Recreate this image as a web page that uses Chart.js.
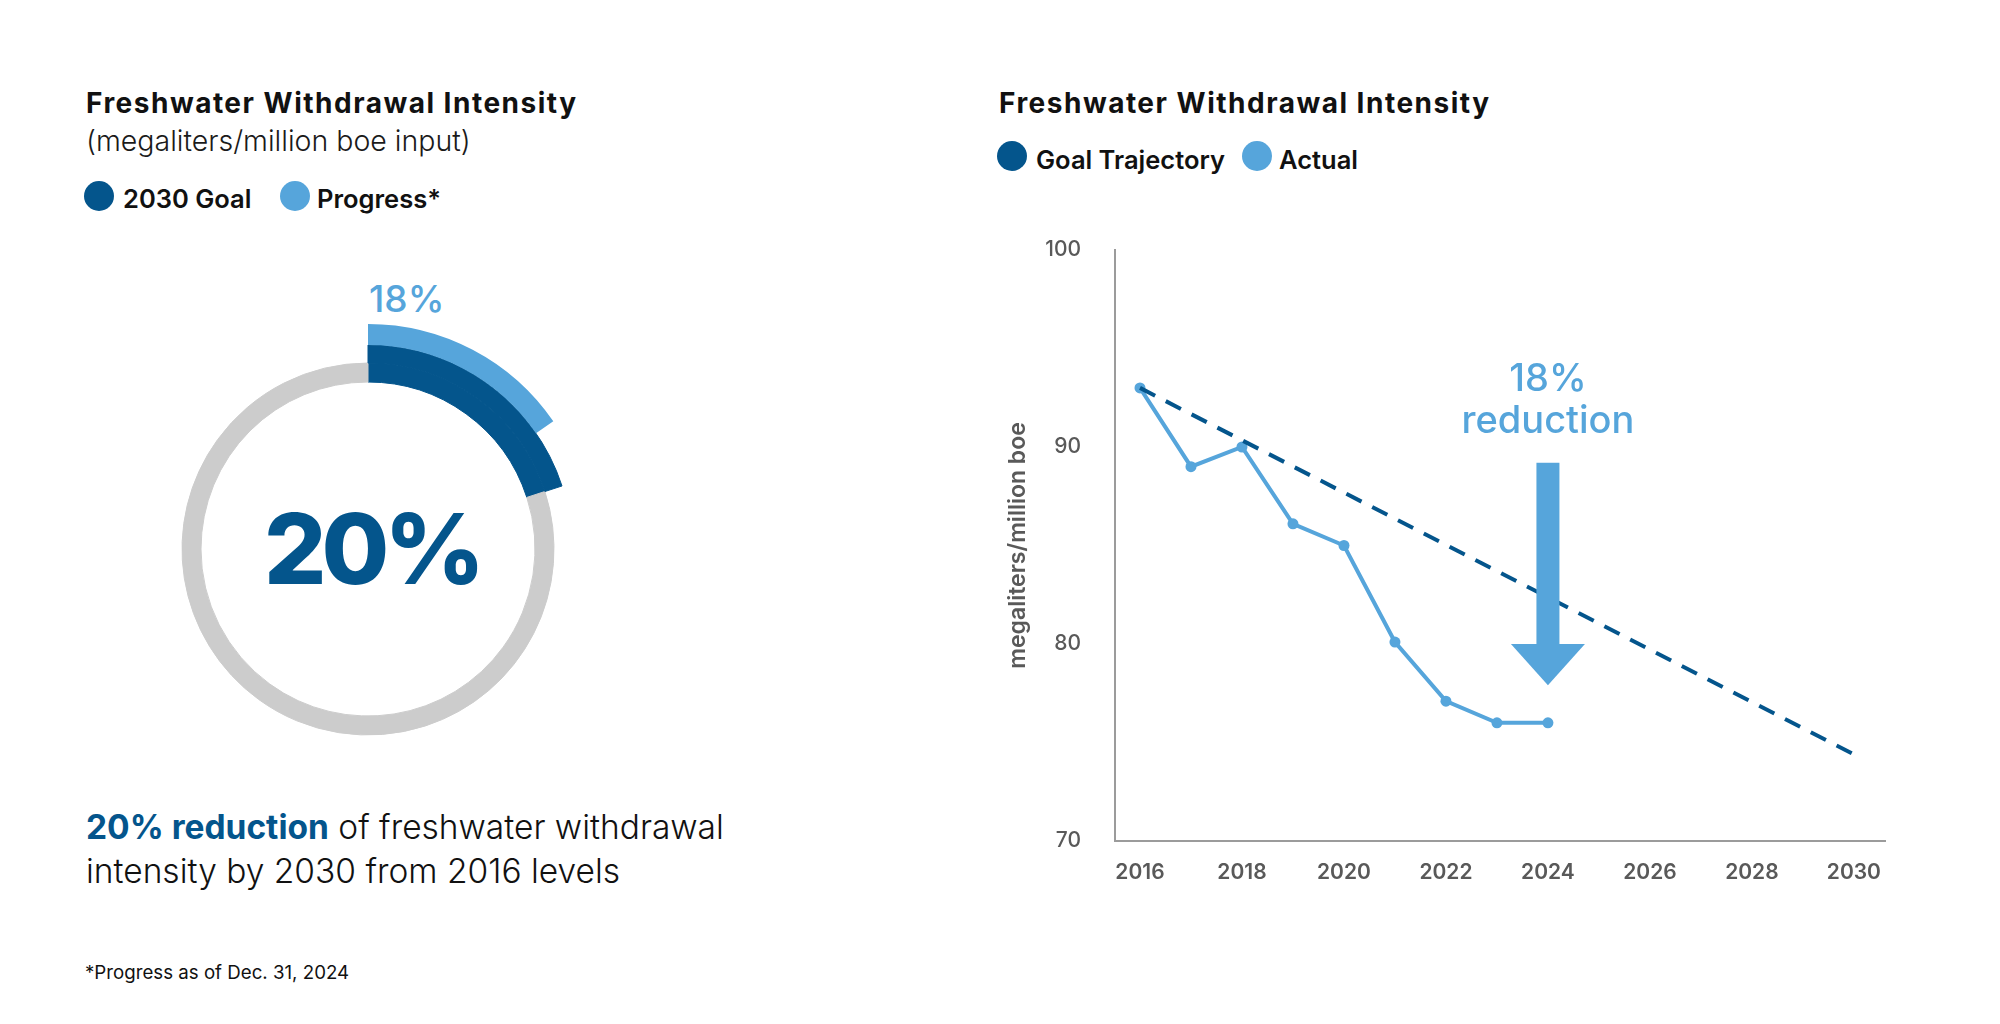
<!DOCTYPE html>
<html>
<head>
<meta charset="utf-8">
<title>Freshwater Withdrawal Intensity</title>
<script src="https://cdn.jsdelivr.net/npm/chart.js"></script>
<style>
  html, body { margin: 0; padding: 0; background: #fff; }
  body { width: 2000px; height: 1024px; position: relative; overflow: hidden;
         font-family: Inter, "Noto Sans", sans-serif; color: #111; }
  .abs { position: absolute; white-space: nowrap; line-height: 1; }
  .title { font-size: 28px; font-weight: 700; letter-spacing: 1.5px; }
  .sub { font-size: 28.5px; font-weight: 300; color: #1a1a1a; }
  .leg { font-size: 25.5px; font-weight: 600; }
  .dot { position: absolute; width: 30px; height: 30px; border-radius: 50%; }
  .dark { background: #04558c; }
  .light { background: #56a5db; }
  .pct { font-size: 37px; font-weight: 500; color: #56a5db; }
  .summary { font-size: 33.5px; font-weight: 300; line-height: 44px; color: #111; }
  .summary b { font-weight: 700; color: #04558c; }
  .note { font-size: 18.7px; font-weight: 400; color: #111; }
  #donutBox { position: absolute; left: 143px; top: 324px; width: 450px; height: 450px; }
  #lineBox { position: absolute; left: 990px; top: 230px; width: 910px; height: 680px; }
</style>
</head>
<body>

<!-- left panel -->
<div class="abs title" style="left:86px; top:88.5px;">Freshwater Withdrawal Intensity</div>
<div class="abs sub" style="left:86px; top:127px;">(megaliters/million boe input)</div>
<div class="dot dark" style="left:84px; top:181px;"></div>
<div class="abs leg" style="left:123px; top:186px;">2030 Goal</div>
<div class="dot light" style="left:280px; top:181px;"></div>
<div class="abs leg" style="left:317px; top:186px;">Progress*</div>
<div class="abs pct" style="left:369px; top:280px;">18%</div>
<div id="donutBox"><canvas id="donut"></canvas></div>
<div class="abs summary" style="left:86px; top:805px;"><b>20% reduction</b> of freshwater withdrawal<br>intensity by 2030 from 2016 levels</div>
<div class="abs note" style="left:85px; top:964px;">*Progress as of Dec. 31, 2024</div>

<!-- right panel -->
<div class="abs title" style="left:999px; top:88.5px;">Freshwater Withdrawal Intensity</div>
<div class="dot dark" style="left:997px; top:141px;"></div>
<div class="abs leg" style="left:1036px; top:147px;">Goal Trajectory</div>
<div class="dot light" style="left:1242px; top:141px;"></div>
<div class="abs leg" style="left:1279px; top:147px;">Actual</div>
<div id="lineBox"><canvas id="trend"></canvas></div>

<script>
  // donut values (percent reduction vs 2016)
  var goalPct = 20;
  var progressPct = 18;

  // trend values (megaliters/million boe)
  var years = [2016, 2017, 2018, 2019, 2020, 2021, 2022, 2023, 2024];
  var actual = [93.0, 89.0, 90.0, 86.1, 85.0, 80.1, 77.1, 76.0, 76.0];
  var goalYears = [2016, 2030];
  var goalValues = [93.0, 74.4];
  var xTicks = [2016, 2018, 2020, 2022, 2024, 2026, 2028, 2030];
  var yTicks = [70, 80, 90, 100];

  // "18% reduction" callout, in data units
  var arrowYear = 2024;
  var arrowFrom = 89.2, arrowNeck = 80.0, arrowTo = 77.9;

  var darkBlue = '#04558c';
  var lightBlue = '#56a5db';
  var track = '#cccccc';
  var clear = 'rgba(0,0,0,0)';
  var axisText = '#595959';

  Chart.defaults.font.family = 'Inter, "Noto Sans", sans-serif';
  Chart.defaults.animation = false;

  var centerLabel = {
    id: 'centerLabel',
    afterDraw: function (chart) {
      var ctx = chart.ctx;
      var a = chart.chartArea;
      var cx = (a.left + a.right) / 2, cy = (a.top + a.bottom) / 2;
      ctx.save();
      ctx.fillStyle = darkBlue;
      ctx.font = '800 98px Inter, sans-serif';
      ctx.letterSpacing = '-5px';
      ctx.textAlign = 'center';
      ctx.textBaseline = 'alphabetic';
      ctx.fillText(goalPct + '%', cx + 4, cy + 35);
      ctx.restore();
    }
  };

  new Chart(document.getElementById('donut').getContext('2d'), {
    type: 'doughnut',
    data: {
      datasets: [
        { // progress ring (outermost)
          data: [progressPct, 100 - progressPct],
          backgroundColor: [lightBlue, clear],
          borderWidth: 0,
          weight: 21,
          circumference: 308
        },
        { // goal, outer half
          data: [goalPct, 100 - goalPct],
          backgroundColor: [darkBlue, clear],
          borderColor: [darkBlue, clear],
          borderWidth: 1,
          weight: 18
        },
        { // goal + grey track
          data: [goalPct, 100 - goalPct],
          backgroundColor: [darkBlue, track],
          borderColor: [darkBlue, track],
          borderWidth: 1,
          weight: 19
        }
      ]
    },
    options: {
      responsive: true,
      maintainAspectRatio: false,
      cutout: 167,
      hoverOffset: 0,
      layout: { padding: 0 },
      plugins: { legend: { display: false }, tooltip: { enabled: false } }
    },
    plugins: [centerLabel]
  });

  var reductionArrow = {
    id: 'reductionArrow',
    afterDatasetsDraw: function (chart) {
      var ctx = chart.ctx;
      var x = chart.scales.x, y = chart.scales.y;
      var cx = x.getPixelForValue(arrowYear);
      var top = y.getPixelForValue(arrowFrom);
      var neck = y.getPixelForValue(arrowNeck);
      var tip = y.getPixelForValue(arrowTo);
      ctx.save();
      ctx.fillStyle = lightBlue;
      ctx.fillRect(cx - 11.5, top, 23, neck - top + 1);
      ctx.beginPath();
      ctx.moveTo(cx - 37, neck);
      ctx.lineTo(cx + 37, neck);
      ctx.lineTo(cx, tip);
      ctx.closePath();
      ctx.fill();
      ctx.textAlign = 'center';
      ctx.textBaseline = 'alphabetic';
      ctx.font = '500 38px Inter, sans-serif';
      ctx.fillText(progressPct + '%', cx, top - 72);
      ctx.fillText('reduction', cx, top - 30);
      ctx.restore();
    }
  };

  var goalPoints = goalYears.map(function (yr, i) { return { x: yr, y: goalValues[i] }; });
  var actualPoints = years.map(function (yr, i) { return { x: yr, y: actual[i] }; });

  new Chart(document.getElementById('trend').getContext('2d'), {
    type: 'line',
    data: {
      datasets: [
        {
          label: 'Goal Trajectory',
          data: goalPoints,
          borderColor: darkBlue,
          borderWidth: 4,
          borderDash: [17, 12],
          pointRadius: 0,
          tension: 0
        },
        {
          label: 'Actual',
          data: actualPoints,
          borderColor: lightBlue,
          backgroundColor: lightBlue,
          borderWidth: 4,
          pointRadius: 5.5,
          pointBorderWidth: 0,
          pointBackgroundColor: lightBlue,
          tension: 0
        }
      ]
    },
    options: {
      responsive: true,
      maintainAspectRatio: false,
      layout: { padding: { top: 20, right: 15, left: 0, bottom: 0 } },
      plugins: { legend: { display: false }, tooltip: { enabled: false } },
      scales: {
        x: {
          type: 'linear',
          min: 2015.51,
          max: 2030.61,
          grid: { display: false, drawTicks: true, tickLength: 15 },
          border: { display: true, color: '#9b9b9b', width: 2 },
          ticks: {
            padding: 4,
            color: axisText,
            font: { size: 21, weight: '600' },
            callback: function (v) { return String(v); }
          },
          afterBuildTicks: function (s) { s.ticks = xTicks.map(function (v) { return { value: v }; }); },
          afterFit: function (s) { s.height = 69; }
        },
        y: {
          min: 70,
          max: 100,
          grid: { display: false, drawTicks: true, tickLength: 30 },
          border: { display: true, color: '#9b9b9b', width: 2 },
          ticks: {
            padding: 4,
            color: axisText,
            font: { size: 21, weight: '500' },
            callback: function (v) { return String(v); }
          },
          afterBuildTicks: function (s) { s.ticks = yTicks.map(function (v) { return { value: v }; }); },
          title: {
            display: true,
            text: 'megaliters/million boe',
            color: axisText,
            font: { size: 23, weight: '600' },
            padding: { top: 14, bottom: 0 }
          },
          afterFit: function (s) { s.width = 125; }
        }
      }
    },
    plugins: [reductionArrow]
  });
</script>
</body>
</html>
